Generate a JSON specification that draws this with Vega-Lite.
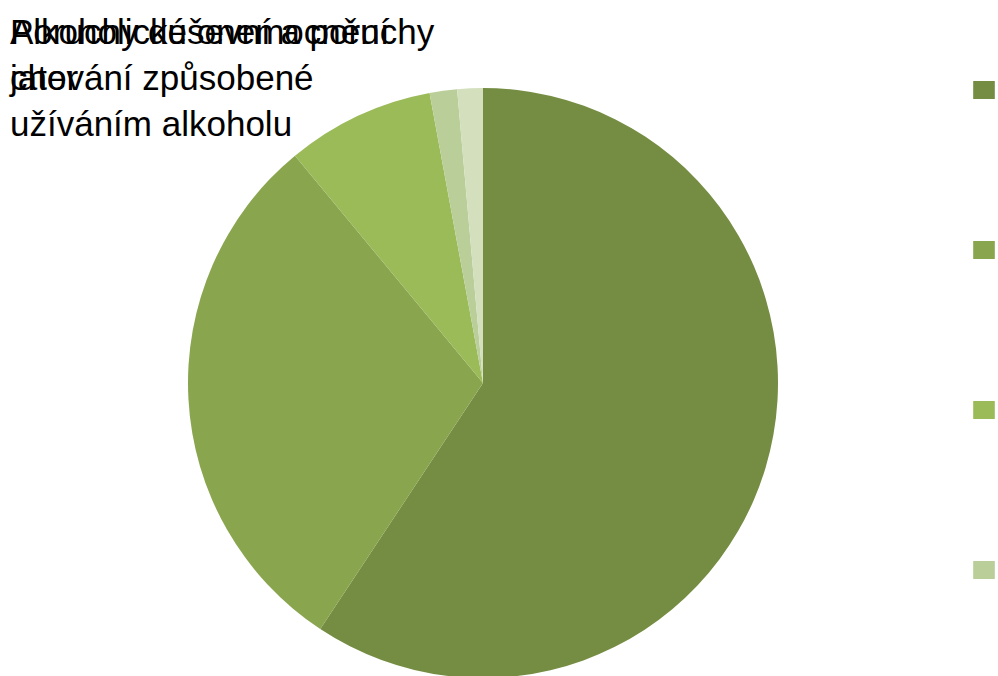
{
  "$schema": "https://vega.github.io/schema/vega-lite/v6.json",
  "autosize": {"type": "none"},
  "width": 966,
  "height": 476,
  "padding": {"left": 0, "top": 145, "right": 32, "bottom": 55},
  "background": "white",
  "config": {"view": {"stroke": null}, "font": "Liberation Sans"},
  "title": {
    "text": ["Alkoholické onemocnění", "jater"],
    "subtitle": ["Poruchy duševní a poruchy", "chování způsobené", "užíváním alkoholu"],
    "anchor": "start",
    "frame": "group",
    "orient": "top",
    "dx": 10,
    "offset": -62,
    "font": "Liberation Sans",
    "fontSize": 35,
    "fontWeight": "normal",
    "color": "black",
    "lineHeight": 46,
    "subtitleFont": "Liberation Sans",
    "subtitleFontSize": 35,
    "subtitleColor": "black",
    "subtitleLineHeight": 46,
    "subtitlePadding": -81
  },
  "data": {
    "values": [
      {"kategorie": "Alkoholické onemocnění jater", "podil": 59.3, "poradi": 1},
      {"kategorie": "Poruchy duševní a poruchy chování způsobené užíváním alkoholu", "podil": 29.7, "poradi": 2},
      {"kategorie": "Toxický účinek alkoholu", "podil": 8.1, "poradi": 3},
      {"kategorie": "Alkoholická kardiomyopatie", "podil": 1.5, "poradi": 4},
      {"kategorie": "Chronická pankreatitida vyvolaná alkoholem", "podil": 1.4, "poradi": 5}
    ]
  },
  "mark": {"type": "arc", "outerRadius": 295},
  "encoding": {
    "theta": {"field": "podil", "type": "quantitative", "stack": true},
    "order": {"field": "poradi", "type": "quantitative"},
    "color": {
      "field": "kategorie",
      "type": "nominal",
      "sort": null,
      "scale": {
        "domain": [
          "Alkoholické onemocnění jater",
          "Poruchy duševní a poruchy chování způsobené užíváním alkoholu",
          "Toxický účinek alkoholu",
          "Alkoholická kardiomyopatie",
          "Chronická pankreatitida vyvolaná alkoholem"
        ],
        "range": ["#758d42", "#89a54e", "#9bbb59", "#b9ce98", "#d3dfbd"]
      },
      "legend": {
        "title": null,
        "orient": "none",
        "legendX": 975,
        "legendY": -64,
        "padding": 0,
        "symbolType": "M-1.2,-1L1.2,-1L1.2,1L-1.2,1Z",
        "symbolSize": 324,
        "symbolStrokeWidth": 0,
        "symbolOpacity": 1,
        "labelFontSize": 18,
        "labelOffset": 30,
        "labelLimit": 2000,
        "rowPadding": 142
      }
    }
  }
}
